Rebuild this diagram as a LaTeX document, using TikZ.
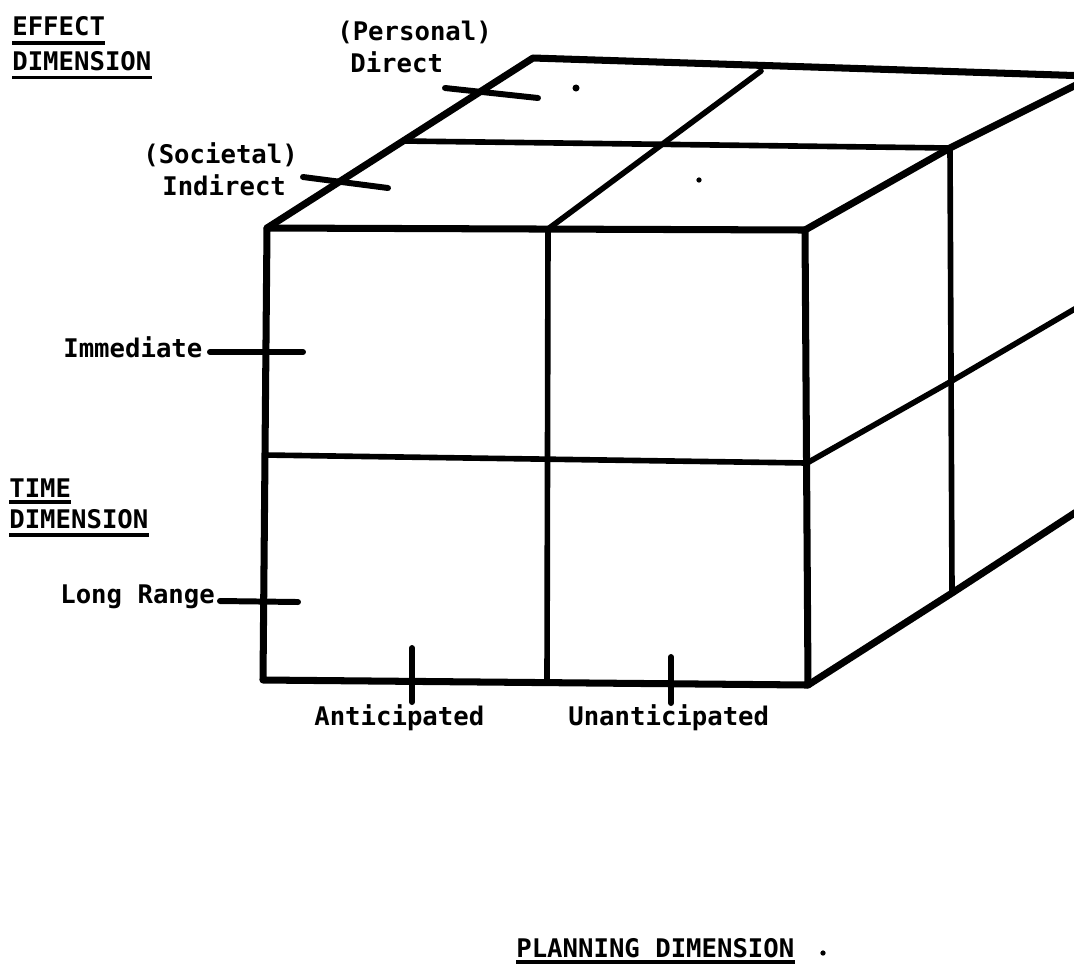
\documentclass[tikz,border=0pt]{standalone}
\usepackage{fontspec}
\newfontfamily\lettering{DejaVu Sans Mono}

\tikzset{
	edge/.style={line width=4pt, line cap=round, line join=round},
	grid/.style={line width=3.2pt, line cap=round, line join=round},
	tick/.style={line width=3.4pt, line cap=round},
	uline/.style={line width=2.2pt},
	lbl/.style={font=\lettering\bfseries\fontsize{14.6pt}{17pt}\selectfont, inner sep=0pt, anchor=base west}
}

\begin{document}
\begin{tikzpicture}[x=0.02cm, y=-0.02cm]
	\useasboundingbox (0,0) rectangle (1074,965);
	\clip (0,0) rectangle (1074,965);

	% front face
	\coordinate (FTL) at (267,228); % front top left
	\coordinate (FTM) at (548,229); % front top middle
	\coordinate (FTR) at (805,230); % front top right
	\coordinate (FML) at (265,455); % front middle left
	\coordinate (FMR) at (807,463); % front middle right
	\coordinate (FBL) at (263,680); % front bottom left
	\coordinate (FBM) at (547,682); % front bottom middle
	\coordinate (FBR) at (808,685); % front bottom right

	% top face
	\coordinate (BTL) at (533,58); % back top left
	\coordinate (BTM) at (761,71); % back top middle
	\coordinate (BTR) at (1090,76); % back top right (cut off)
	\coordinate (TML) at (403,141); % top middle left
	\coordinate (TMR) at (950,148); % top middle right
	\coordinate (TRR) at (1090,78); % top right edge (cut off)

	% right face
	\coordinate (RMM) at (950,382); % right middle
	\coordinate (RMR) at (1090,300); % right middle end (cut off)
	\coordinate (RBM) at (952,593); % right bottom
	\coordinate (RBR) at (1090,503); % right bottom end (cut off)

	\draw[edge] (FBR) -- (FBL) -- (FTL) -- (FTR) -- (FBR);
	\draw[edge] (FTL) -- (BTL) -- (BTR);
	\draw[edge] (FTR) -- (TMR) -- (TRR);
	\draw[edge] (FBR) -- (RBM) -- (RBR);

	\draw[grid] (FTM) -- (FBM);
	\draw[grid] (FML) -- (FMR) -- (RMM) -- (RMR);
	\draw[grid] (TML) -- (TMR);
	\draw[grid] (FTM) -- (BTM);
	\draw[grid] (TMR) -- (RBM);

	\fill (576,88) circle[radius=2pt];
	\fill (699,180) circle[radius=1.5pt];

	% effect dimension
	\node[lbl] (effect) at (12,35) {EFFECT};
	\node[lbl] (effdim) at (12,70) {DIMENSION};
	\draw[uline] ([yshift=-0.16cm]effect.base west) -- ([yshift=-0.16cm]effect.base east);
	\draw[uline] ([yshift=-0.15cm]effdim.base west) -- ([yshift=-0.15cm]effdim.base east);

	\node[lbl] (pers) at (337,40) {(Personal)};
	\node[lbl] (direct) at (350,72) {Direct};
	\coordinate (DA) at (445,88);
	\coordinate (DB) at (538,98);
	\draw[tick] (DA) -- (DB);

	\node[lbl] (soc) at (143,163) {(Societal)};
	\node[lbl] (indir) at (162,195) {Indirect};
	\coordinate (IA) at (303,177);
	\coordinate (IB) at (388,188);
	\draw[tick] (IA) -- (IB);

	% time dimension
	\node[lbl] (immed) at (63,357) {Immediate};
	\coordinate (MA) at (210,352);
	\coordinate (MB) at (303,352);
	\draw[tick] (MA) -- (MB);

	\node[lbl] (time) at (9,497) {TIME};
	\node[lbl] (timedim) at (9,528) {DIMENSION};
	\draw[uline] ([yshift=-0.1cm]time.base west) -- ([yshift=-0.1cm]time.base east);
	\draw[uline] ([yshift=-0.14cm]timedim.base west) -- ([yshift=-0.14cm]timedim.base east);

	\node[lbl] (longr) at (60,603) {Long Range};
	\coordinate (LA) at (220,601);
	\coordinate (LB) at (298,602);
	\draw[tick] (LA) -- (LB);

	% planning dimension
	\node[lbl] (antic) at (314,725) {Anticipated};
	\coordinate (AA) at (412,648);
	\coordinate (AB) at (412,702);
	\draw[tick] (AA) -- (AB);

	\node[lbl] (unant) at (568,725) {Unanticipated};
	\coordinate (UA) at (671,657);
	\coordinate (UB) at (671,703);
	\draw[tick] (UA) -- (UB);

	\node[lbl] (plan) at (516,957) {PLANNING DIMENSION};
	\draw[uline] ([yshift=-0.1cm]plan.base west) -- ([yshift=-0.1cm]plan.base east);
	\fill (823,953) circle[radius=1.5pt];
\end{tikzpicture}
\end{document}
